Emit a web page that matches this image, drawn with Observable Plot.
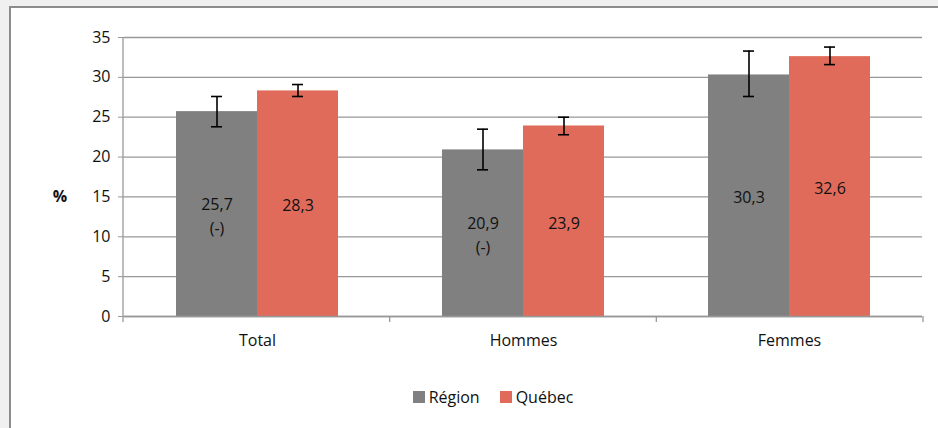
<!DOCTYPE html>
<html>
<head>
<meta charset="utf-8">
<script src="https://cdn.jsdelivr.net/npm/d3@7"></script>
<script src="https://cdn.jsdelivr.net/npm/@observablehq/plot@0.6"></script>
<style>
  html, body { margin: 0; padding: 0; background: #f0f0f0; overflow: hidden; font-family: "Open Sans", sans-serif; }
  #page { position: fixed; left: 0; top: 0; width: 938px; height: 428px; overflow: hidden; background: #f0f0f0; }
  #frame { position: absolute; left: 9px; top: 6px; width: 929px; height: 422px; background: #fff; border-left: 2px solid #8c8c8c; border-top: 2px solid #8c8c8c; box-sizing: border-box; }
  #chart { position: absolute; left: 0; top: 0; width: 938px; height: 360px; }
  #legend { position: absolute; top: 385px; left: 0; width: 938px; height: 24px; display: flex; justify-content: center; gap: 20px; font-size: 16px; color: #111; padding-left: 48px; box-sizing: border-box; }
  #legend span.item { display: flex; align-items: center; gap: 4px; }
  #legend span.sw { display: inline-block; width: 12px; height: 12px; }
</style>
</head>
<body>
<div id="page">
  <div id="frame"></div>
  <div id="chart"></div>
  <div id="legend"></div>
</div>
<script>
const categories = ["Total", "Hommes", "Femmes"];
const seriesNames = ["Région", "Québec"];
const regionValues = [25.7, 20.9, 30.3];
const quebecValues = [28.3, 23.9, 32.6];
const regionLow = [23.8, 18.4, 27.6];
const regionHigh = [27.6, 23.5, 33.3];
const quebecLow = [27.6, 22.8, 31.6];
const quebecHigh = [29.1, 25.0, 33.8];
const regionFlags = ["(-)", "(-)", ""];
const quebecFlags = ["", "", ""];
const yTicks = [0, 5, 10, 15, 20, 25, 30, 35];
const colors = ["#808080", "#e06b5a"];

const fmt = v => v.toFixed(1).replace(".", ",");
const rows = [];
categories.forEach((c, i) => {
  rows.push({cat: c, series: "Région", value: regionValues[i], lo: regionLow[i], hi: regionHigh[i], flag: regionFlags[i]});
  rows.push({cat: c, series: "Québec", value: quebecValues[i], lo: quebecLow[i], hi: quebecHigh[i], flag: quebecFlags[i]});
});
rows.forEach(r => { r.label = fmt(r.value) + (r.flag ? "\n" + r.flag : ""); r.mid = r.value / 2; });

const W = 938, H = 360;
const plot = Plot.plot({
  width: W, height: H,
  marginLeft: 123, marginRight: 15, marginTop: 37, marginBottom: 44,
  style: {fontFamily: "Open Sans, sans-serif", fontSize: "16px", color: "#111", background: "transparent", overflow: "hidden"},
  fx: {domain: categories, padding: 0, label: null},
  x: {domain: seriesNames, paddingInner: 0, paddingOuter: 0.626, axis: null},
  y: {domain: [0, 35], label: null},
  color: {domain: seriesNames, range: colors},
  marks: [
    Plot.gridY(yTicks, {stroke: "#989898", strokeOpacity: 1, strokeWidth: 1.3}),
    Plot.axisY(yTicks, {tickSize: 6, tickPadding: 8, stroke: "#989898", fontSize: 16, label: null, tickFormat: d => d}),
    Plot.axisFx({anchor: "bottom", tickSize: 0, tickPadding: 18, fontSize: 16, label: null}),
    Plot.barY(rows, {fx: "cat", x: "series", y: "value", fill: "series", inset: 0}),
    Plot.ruleY([0], {stroke: "#989898", strokeWidth: 1.3}),
    Plot.ruleX(rows, {fx: "cat", x: "series", y1: "lo", y2: "hi", stroke: "#000", strokeWidth: 1.6}),
    Plot.tickY(rows, {fx: "cat", x: "series", y: "lo", stroke: "#000", strokeWidth: 1.6, insetLeft: 35, insetRight: 35}),
    Plot.tickY(rows, {fx: "cat", x: "series", y: "hi", stroke: "#000", strokeWidth: 1.6, insetLeft: 35, insetRight: 35}),
    Plot.text(rows, {fx: "cat", x: "series", y: "mid", text: "label", fill: "#111", fontSize: 16, lineHeight: 1.5})
  ]
});

// axis line and category boundary ticks from the scales
const svg = d3.select(plot);
const ys = plot.scale("y"), fxs = plot.scale("fx");
const yScale = d3.scaleLinear(ys.domain, ys.range);
const fxScale = d3.scaleBand(fxs.domain, fxs.range).paddingInner(0).paddingOuter(0);
const g = svg.append("g").attr("stroke", "#989898").attr("stroke-width", 1.3);
const x0 = fxScale(categories[0]);
g.append("line").attr("x1", x0).attr("x2", x0).attr("y1", yScale(35)).attr("y2", yScale(0) + 6);
categories.forEach(c => {
  const xr = fxScale(c) + fxScale.bandwidth();
  g.append("line").attr("x1", xr).attr("x2", xr).attr("y1", yScale(0)).attr("y2", yScale(0) + 6);
});
svg.append("text").attr("x", 60).attr("y", yScale(15)).attr("dy", "0.35em")
  .attr("text-anchor", "middle").attr("font-weight", "bold").attr("font-size", 16).attr("fill", "#111").text("%");

document.getElementById("chart").appendChild(plot);

const legend = document.getElementById("legend");
seriesNames.forEach((s, i) => {
  const item = document.createElement("span"); item.className = "item";
  const sw = document.createElement("span"); sw.className = "sw"; sw.style.background = colors[i];
  const t = document.createElement("span"); t.textContent = s;
  item.appendChild(sw); item.appendChild(t); legend.appendChild(item);
});
</script>
</body>
</html>
